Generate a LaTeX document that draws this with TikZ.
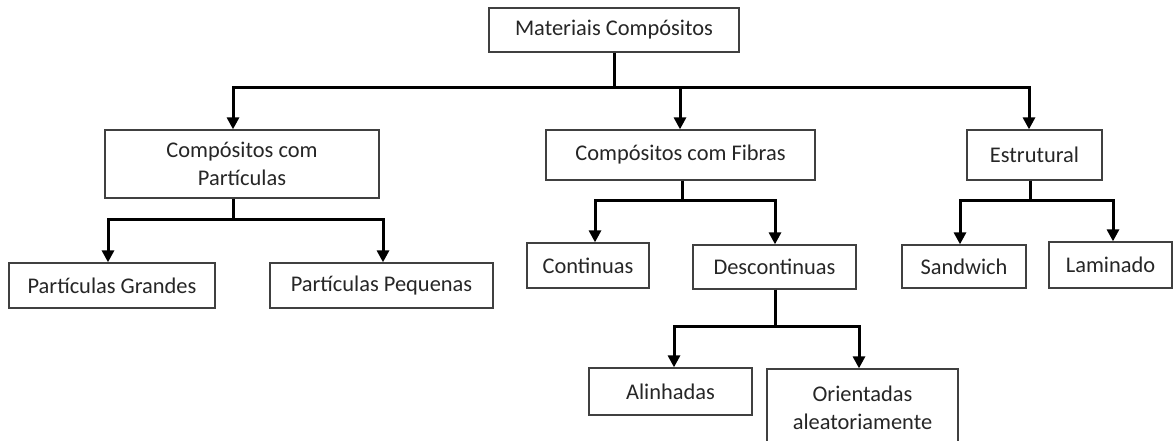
\documentclass[tikz,border=0pt]{standalone}
\usepackage{fontspec}
\setmainfont{Carlito}
\usetikzlibrary{arrows.meta}
\begin{document}
\begin{tikzpicture}[x=1bp,y=-1bp,
  box/.style={draw=black!75, line width=1.3bp, fill=white, inner sep=0pt, align=center,
    text=black!85, font=\fontsize{22.5}{28.5}\selectfont},
  conn/.style={line width=3bp, draw=black},
  arr/.style={conn, -{Triangle[width=12bp,length=12bp]}}]
\clip (0,0) rectangle (1173,441);
\useasboundingbox (0,0) rectangle (1173,441);
% nodes
\node[box, minimum width=250bp, minimum height=44bp] (mat) at (614,30) {Materiais Compósitos};
\node[box, minimum width=274bp, minimum height=68bp] (part) at (242,164) {Compósitos com\\Partículas};
\node[box, minimum width=269bp, minimum height=50bp] (fib) at (680.5,155) {Compósitos com Fibras};
\node[box, minimum width=135bp, minimum height=50bp] (estr) at (1034.5,155) {Estrutural};
\node[box, minimum width=206bp, minimum height=45bp] (pg) at (112,285.5) {Partículas Grandes};
\node[box, minimum width=223bp, minimum height=45bp] (pp) at (381.5,285.5) {Partículas Pequenas};
\node[box, minimum width=122bp, minimum height=45bp] (cont) at (588,265.5) {Continuas};
\node[box, minimum width=163bp, minimum height=44bp] (desc) at (774.5,267) {Descontinuas};
\node[box, minimum width=124bp, minimum height=43bp] (sand) at (964,266.5) {Sandwich};
\node[box, minimum width=123bp, minimum height=46bp] (lam) at (1110.5,265) {Laminado};
\node[box, minimum width=163bp, minimum height=47bp] (alin) at (670.5,391.5) {Alinhadas};
\node[box, minimum width=191bp, minimum height=77bp] (ori) at (862.5,407.5) {Orientadas\\aleatoriamente};
% junction coordinates
\coordinate (a1) at (233,88);
\coordinate (a2) at (680,88);
\coordinate (a3) at (1029,88);
\coordinate (b1) at (108,220);
\coordinate (b2) at (383,220);
\coordinate (c1) at (595,201);
\coordinate (c2) at (775,201);
\coordinate (d1) at (960,201);
\coordinate (d2) at (1113,201);
\coordinate (e1) at (674,327);
\coordinate (e2) at (859,327);
% level 1
\draw[arr] (mat.south) |- (a1) -- (a1 |- part.north);
\draw[arr] (mat.south) |- (a3) -- (a3 |- estr.north);
\draw[arr] (a2) -- (a2 |- fib.north);
% particulas
\draw[arr] (a1 |- part.south) |- (b1) -- (b1 |- pg.north);
\draw[arr] (a1 |- part.south) |- (b2) -- (b2 |- pp.north);
% fibras
\draw[arr] (682,0 |- fib.south) |- (c1) -- (c1 |- cont.north);
\draw[arr] (682,0 |- fib.south) |- (c2) -- (c2 |- desc.north);
% estrutural
\draw[arr] (1030,0 |- estr.south) |- (d1) -- (d1 |- sand.north);
\draw[arr] (1030,0 |- estr.south) |- (d2) -- (d2 |- lam.north);
% descontinuas
\draw[arr] (c2 |- desc.south) |- (e1) -- (e1 |- alin.north);
\draw[arr] (c2 |- desc.south) |- (e2) -- (e2 |- ori.north);
\end{tikzpicture}
\end{document}
